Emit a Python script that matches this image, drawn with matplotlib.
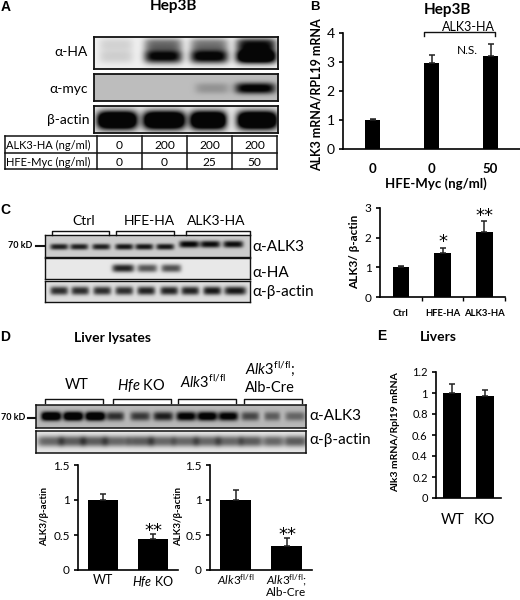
import numpy as np
import matplotlib
matplotlib.use("Agg")
import matplotlib.pyplot as plt

plt.rcParams['font.family'] = ['Lato', 'DejaVu Sans']
plt.rcParams['mathtext.fontset'] = 'custom'
plt.rcParams['mathtext.rm'] = 'Lato'
plt.rcParams['mathtext.it'] = 'Lato:italic'
plt.rcParams['mathtext.bf'] = 'Lato:bold'

W, H = 520, 600
fig = plt.figure(figsize=(W / 100, H / 100), dpi=100, facecolor='white')

# ---------- chart values ----------
b_labels = ['0', '0', '50']
b_values = [1.0, 2.97, 3.22]
b_errors = [0.04, 0.26, 0.40]

c_labels = ['Ctrl', 'HFE-HA', 'ALK3-HA']
c_values = [1.0, 1.5, 2.2]
c_errors = [0.03, 0.16, 0.37]

d1_labels = ['WT', r'$\mathit{Hfe}$ KO']
d1_values = [1.0, 0.45]
d1_errors = [0.08, 0.07]

d2_labels = [r'$\mathit{Alk3}^{\mathrm{fl/fl}}$', '$\\mathit{Alk3}^{\\mathrm{fl/fl}}$;\nAlb-Cre']
d2_values = [1.0, 0.35]
d2_errors = [0.15, 0.11]

e_labels = ['WT', 'KO']
e_values = [1.0, 0.97]
e_errors = [0.09, 0.06]

table_rows = [['ALK3-HA (ng/ml)', '0', '200', '200', '200'],
              ['HFE-Myc (ng/ml)', '0', '0', '25', '50']]

# blot lanes: (lane centre px, band half-width px, darkness)
a_ha_main = [(116, 17, 0.14), (163, 19, 1.05), (209, 19, 1.1), (256, 20, 1.6)]
a_ha_up = [(116, 17, 0.12), (163, 19, 0.55), (209, 19, 0.50), (256, 20, 0.95)]
a_myc = [(212, 17, 0.22), (255, 20, 1.1)]
a_act = [(117, 20, 1.8), (164, 21, 1.8), (208, 18, 1.8), (257, 20, 1.8)]
c_alk3a = [(59, 9, .85), (79, 9, .85), (101, 9, .85), (124, 9, .9), (144, 9, .9), (165, 9, .9)]
c_alk3b = [(189, 10, 1.0), (210, 10, .95), (233, 10, .95)]
c_ha = [(123, 11, .85), (147, 10, .62), (171, 10, .65)]
c_act = [(59, 9, .8), (80, 9, .8), (102, 9, .8), (124, 9, .8), (146, 9, .85), (169, 9, .85),
         (190, 9, .85), (212, 9, .9), (235, 11, .9)]
d_alk3 = [(51, 10, 1.4), (73, 10, 1.4), (95, 10, 1.4), (115, 9, .75), (140, 10, .7), (163, 10, .85),
          (186, 10, 1.1), (207, 10, 1.2), (228, 10, 1.1), (250, 9, .62), (272, 8, .5), (295, 10, .45)]
d_act = [(50, 13, .55), (72, 13, .6), (94, 13, .6), (116, 13, .55), (140, 13, .6), (162, 13, .55),
         (185, 13, .55), (207, 13, .55), (229, 13, .55), (251, 12, .6), (273, 10, .55), (295, 12, .6)]


def axpx(x0, y0, x1, y1, **kw):
    """Axes from pixel box (y measured from the top)."""
    return fig.add_axes([x0 / W, 1 - y1 / H, (x1 - x0) / W, (y1 - y0) / H], **kw)


overlay = axpx(0, 0, W, H)
overlay.set_xlim(0, W)
overlay.set_ylim(H, 0)
overlay.axis('off')
overlay.set_zorder(5)


def txt(x, y, s, size=9, weight='normal', ha='center', va='center', **kw):
    overlay.text(x, y, s, fontsize=size, fontweight=weight, ha=ha, va=va, **kw)


def blot(x0, y0, x1, y1, bg, layers, lw=1.3):
    xs = np.arange(x0, x1, 0.5)
    ys = np.arange(y0, y1, 0.5)
    X, Y = np.meshgrid(xs, ys)
    dark = np.zeros_like(X)
    for bands, cy, h in layers:
        for cx, w, d in bands:
            dark += d * np.exp(-np.abs((X - cx) / w) ** 5 - np.abs((Y - cy) / h) ** 2.5)
    img = bg * (1 - np.clip(dark, 0, 0.97))
    ax = axpx(x0, y0, x1, y1)
    ax.imshow(img, cmap='gray', vmin=0, vmax=1, aspect='auto', extent=(x0, x1, y1, y0),
              interpolation='bilinear')
    ax.set_xticks([])
    ax.set_yticks([])
    for s in ax.spines.values():
        s.set_linewidth(lw)
        s.set_color('#111111')


def bars(box, values, errors, labels, ymax, ticks, ticklabels, width, tsize=9, xsize=9,
         xweight='normal', pad=6, linespacing=1.05):
    ax = axpx(*box)
    ax.patch.set_alpha(0)
    x = np.arange(len(values))
    ax.bar(x, values, width=width, color='black',
           yerr=[np.zeros(len(values)), errors], capsize=2.5,
           error_kw=dict(ecolor='#222222', elinewidth=1.1, capthick=1.1))
    ax.set_xlim(-0.5, len(values) - 0.5)
    ax.set_ylim(0, ymax)
    ax.set_yticks(ticks)
    ax.set_yticklabels(ticklabels, fontsize=tsize)
    ax.set_xticks(x)
    ax.set_xticklabels(labels, fontsize=xsize, fontweight=xweight, linespacing=linespacing)
    ax.tick_params(axis='y', direction='out', length=3, width=1.2, pad=3)
    ax.tick_params(axis='x', length=0, pad=pad)
    for s in ('top', 'right'):
        ax.spines[s].set_visible(False)
    for s in ('left', 'bottom'):
        ax.spines[s].set_linewidth(1.2)
    return ax


def bracket(x0, x1, y, drop=4, lw=1.0):
    overlay.plot([x0, x0, x1, x1], [y + drop, y, y, y + drop], color='#111111', lw=lw)


# ---------- panel A ----------
txt(6, 7, 'A', 10, 'bold', family='Liberation Sans')
txt(173, 6, 'Hep3B', 11, 'bold')
blot(94, 37, 278, 69, 0.94, [(a_ha_main, 56, 7), (a_ha_up, 44, 6)])
blot(94, 74, 278, 101, 0.74, [(a_myc, 88, 5.5)])
blot(94, 106, 278, 133, 0.90, [(a_act, 120, 9)])
txt(88, 52, 'α-HA', 10, ha='right')
txt(88, 89, 'α-myc', 10, ha='right')
txt(89, 120, 'β-actin', 10, ha='right')
col_edges = [5, 97, 142, 187, 232, 277]
row_edges = [136, 153, 169]
for yy in row_edges:
    overlay.plot([col_edges[0], col_edges[-1]], [yy, yy], color='#111111', lw=1.1)
for xx in col_edges:
    overlay.plot([xx, xx], [row_edges[0], row_edges[-1]], color='#111111', lw=1.1)
for r, row in enumerate(table_rows):
    ym = (row_edges[r] + row_edges[r + 1]) / 2 + 1
    txt(6.5, ym, row[0], 8.0, ha='left')
    for c, v in enumerate(row[1:]):
        txt((col_edges[c + 1] + col_edges[c + 2]) / 2, ym, v, 8.6)

# ---------- panel B ----------
txt(315, 7, 'B', 9.5, 'bold', family='Liberation Sans')
txt(447, 10, 'Hep3B', 11, 'bold')
bars((343, 33, 520, 149), b_values, b_errors, b_labels, 4, [0, 1, 2, 3, 4],
     ['0', '1', '2', '3', '4'], 0.25, tsize=10, xsize=9.5, xweight='bold', pad=10)
overlay.text(317, 95, 'ALK3 mRNA/RPL19 mRNA', fontsize=9, fontweight='bold', rotation=90,
             ha='center', va='center')
txt(436, 184, 'HFE-Myc (ng/ml)', 9.5, 'bold')
bracket(424, 495, 32)
txt(468, 27, 'ALK3-HA', 9)
txt(467, 51, 'N.S.', 8.5)

# ---------- panel C ----------
txt(5, 210, 'C', 10, 'bold', family='Liberation Sans')
blot(45, 235, 250, 257, 0.80, [(c_alk3a, 246.5, 3), (c_alk3b, 244, 3.5)], lw=1.0)
blot(45, 258, 250, 279, 0.91, [(c_ha, 268, 4)], lw=1.0)
blot(45, 281, 250, 302, 0.87, [(c_act, 291, 4)], lw=1.0)
for a, b in [(52, 109), (116, 174), (186, 250)]:
    bracket(a, b, 231)
for xc, s in [(84, 'Ctrl'), (149, 'HFE-HA'), (216, 'ALK3-HA')]:
    txt(xc, 221, s, 10)
txt(8, 245, '70 kD', 6.5, 'bold', ha='left')
overlay.plot([36, 44], [246, 246], color='#111111', lw=1.5)
txt(252, 247, 'α-ALK3', 11, ha='left')
txt(252, 273, 'α-HA', 11, ha='left')
txt(252, 292, 'α-β-actin', 11, ha='left')
ax_c = bars((380, 208, 505, 297), c_values, c_errors, c_labels, 3, [0, 1, 2, 3],
            ['0', '1', '2', '3'], 0.4, tsize=8.5, xsize=6.8, xweight='bold', pad=9)
ax_c.set_xticks([0.5, 1.5, 2.5], minor=True)
ax_c.tick_params(axis='x', which='minor', length=3, width=1)
overlay.text(355, 252, 'ALK3/ β-actin', fontsize=8.5, fontweight='bold', rotation=90,
             ha='center', va='center')
txt(443, 242, '*', 13, family='DejaVu Sans')
txt(484, 216, '**', 13, family='DejaVu Sans')

# ---------- panel D ----------
txt(5, 337, 'D', 10, 'bold', family='Liberation Sans')
txt(113, 338, 'Liver lysates', 10, 'bold')
blot(36, 405, 306, 428, 0.72, [(d_alk3, 416, 4.5)], lw=1.1)
blot(36, 431, 306, 453, 0.90, [(d_act, 441, 5.5)], lw=1.1)
for a, b in [(45, 103), (113, 171), (178, 236), (244, 302)]:
    bracket(a, b, 399)
txt(77, 385, 'WT', 10.5)
txt(141, 385, r'$\mathit{Hfe}$ KO', 10.5)
txt(203, 382, r'$\mathit{Alk3}^{\mathrm{fl/fl}}$', 10.5)
txt(270, 369, r'$\mathit{Alk3}^{\mathrm{fl/fl}}$;', 10.5)
txt(270, 388, 'Alb-Cre', 10.5)
txt(1, 418, '70 kD', 6.5, 'bold', ha='left')
overlay.plot([28, 35], [418, 418], color='#111111', lw=1.5)
txt(309, 416, 'α-ALK3', 11, ha='left')
txt(309, 440, 'α-β-actin', 11, ha='left')

ticks15 = [0, 0.5, 1, 1.5]
ticks15l = ['0', '0.5', '1', '1.5']
bars((78, 465, 178, 570), d1_values, d1_errors, d1_labels, 1.5, ticks15, ticks15l, 0.6,
     tsize=8.5, xsize=9, pad=3)
bars((210, 465, 312, 570), d2_values, d2_errors, d2_labels, 1.5, ticks15, ticks15l, 0.6,
     tsize=8.5, xsize=8.5, pad=2, linespacing=0.85)
overlay.text(45, 517, 'ALK3/β-actin', fontsize=7, fontweight='bold', rotation=90,
             ha='center', va='center')
overlay.text(179, 517, 'ALK3/β-actin', fontsize=7, fontweight='bold', rotation=90,
             ha='center', va='center')
txt(153, 531, '**', 13, family='DejaVu Sans')
txt(287, 535, '**', 13, family='DejaVu Sans')

# ---------- panel E ----------
txt(382, 336, 'E', 10, 'bold', family='Liberation Sans')
txt(438, 337, 'Livers', 10, 'bold')
bars((436, 372, 501, 498), e_values, e_errors, e_labels, 1.2,
     [0, 0.2, 0.4, 0.6, 0.8, 1, 1.2], ['0', '0.2', '0.4', '0.6', '0.8', '1', '1.2'], 0.55,
     tsize=8, xsize=10.5, pad=11)
overlay.text(396, 432, 'Alk3 mRNA/Rpl19 mRNA', fontsize=7.5, fontweight='bold', rotation=90,
             ha='center', va='center')

fig.savefig('out.png', dpi=100, facecolor='white')
